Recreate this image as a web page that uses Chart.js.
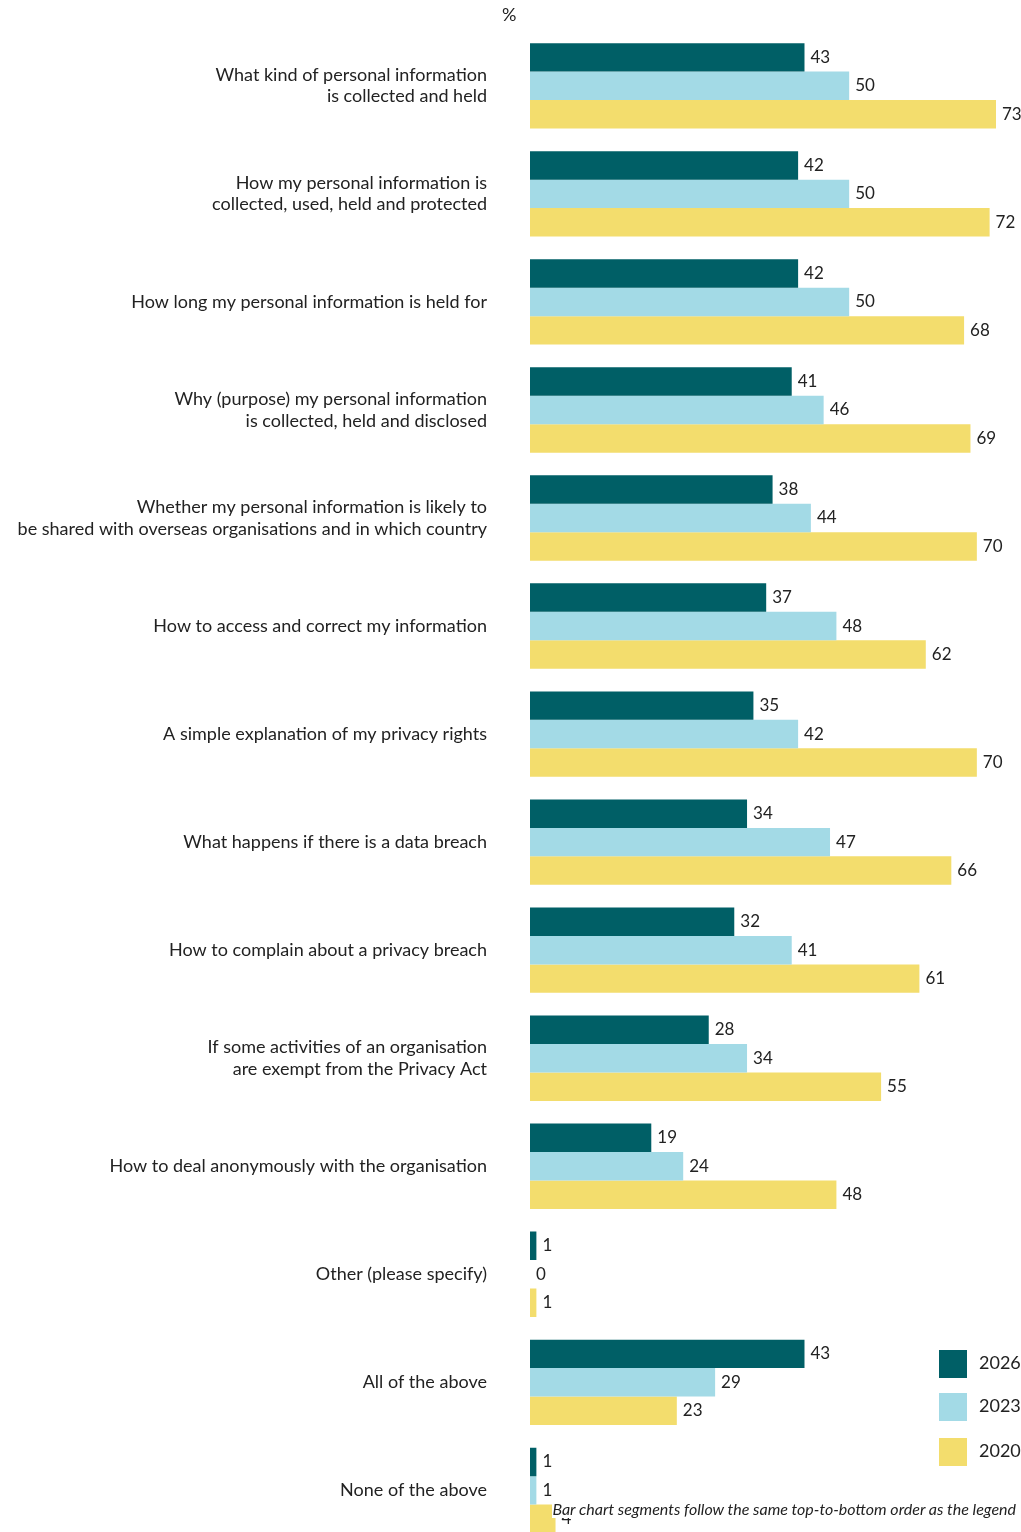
<!DOCTYPE html>
<html>
<head>
<meta charset="utf-8">
<script src="https://cdn.jsdelivr.net/npm/chart.js@4"></script>
<style>
  body { margin: 0; background: #fff; font-family: Lato, sans-serif; color: #222; }
  #wrap { position: relative; width: 1021px; height: 1532px; overflow: hidden; }
  #chart-box { position: absolute; left: 0; top: -14px; width: 1021px; height: 1615px; }
  .pct { position: absolute; left: 502px; top: 3px; font-size: 18px; }
  .leg { position: absolute; left: 939px; font-size: 18px; }
  .leg span { display: inline-block; width: 28px; height: 28px; vertical-align: middle; margin-right: 12px; }
  .note { position: absolute; right: 5px; top: 1499px; font-size: 16px; font-style: italic; background: #fff; }
</style>
</head>
<body>
<div id="wrap">
  <div id="chart-box"><canvas id="c"></canvas></div>
  <div class="pct">%</div>
  <div class="leg" style="top:1350px"><span style="background:#005f66"></span>2026</div>
  <div class="leg" style="top:1393px"><span style="background:#a3dae6"></span>2023</div>
  <div class="leg" style="top:1438px"><span style="background:#f3dd6d"></span>2020</div>
  <div class="note">Bar chart segments follow the same top-to-bottom order as the legend</div>
</div>
<script>
const categories = [
  ['What kind of personal information', 'is collected and held'],
  ['How my personal information is', 'collected, used, held and protected'],
  'How long my personal information is held for',
  ['Why (purpose) my personal information', 'is collected, held and disclosed'],
  ['Whether my personal information is likely to', 'be shared with overseas organisations and in which country'],
  'How to access and correct my information',
  'A simple explanation of my privacy rights',
  'What happens if there is a data breach',
  'How to complain about a privacy breach',
  ['If some activities of an organisation', 'are exempt from the Privacy Act'],
  'How to deal anonymously with the organisation',
  'Other (please specify)',
  'All of the above',
  'None of the above'
];
const values2026 = [43, 42, 42, 41, 38, 37, 35, 34, 32, 28, 19, 1, 43, 1];
const values2023 = [50, 50, 50, 46, 44, 48, 42, 47, 41, 34, 24, 0, 29, 1];
const values2020 = [73, 72, 68, 69, 70, 62, 70, 66, 61, 55, 48, 1, 23, 4];

const valueLabels = {
  id: 'valueLabels',
  afterDatasetsDraw(chart) {
    const ctx = chart.ctx;
    ctx.save();
    ctx.font = '17px Lato, sans-serif';
    ctx.fillStyle = '#222';
    ctx.textBaseline = 'middle';
    chart.data.datasets.forEach((ds, i) => {
      chart.getDatasetMeta(i).data.forEach((bar, j) => {
        ctx.fillText(String(ds.data[j]), bar.x + 6, bar.y);
      });
    });
    ctx.restore();
  }
};

new Chart(document.getElementById('c'), {
  type: 'bar',
  data: {
    labels: categories,
    datasets: [
      { label: '2026', data: values2026, backgroundColor: '#005f66' },
      { label: '2023', data: values2023, backgroundColor: '#a3dae6' },
      { label: '2020', data: values2020, backgroundColor: '#f3dd6d' }
    ]
  },
  options: {
    indexAxis: 'y',
    responsive: true,
    maintainAspectRatio: false,
    animation: false,
    layout: { padding: { top: 0, right: 25, bottom: 0, left: 0 } },
    datasets: { bar: { categoryPercentage: 0.79, barPercentage: 1 } },
    plugins: { legend: { display: false }, tooltip: { enabled: false } },
    scales: {
      x: { display: false, min: 0, max: 73 * (1021 - 25 - 530) / 466 },
      y: {
        grid: { display: false },
        border: { display: false },
        afterFit: s => { s.width = 530; },
        ticks: { color: '#222', padding: 35, font: { family: 'Lato, sans-serif', size: 18 } }
      }
    }
  },
  plugins: [valueLabels]
});
</script>
</body>
</html>
